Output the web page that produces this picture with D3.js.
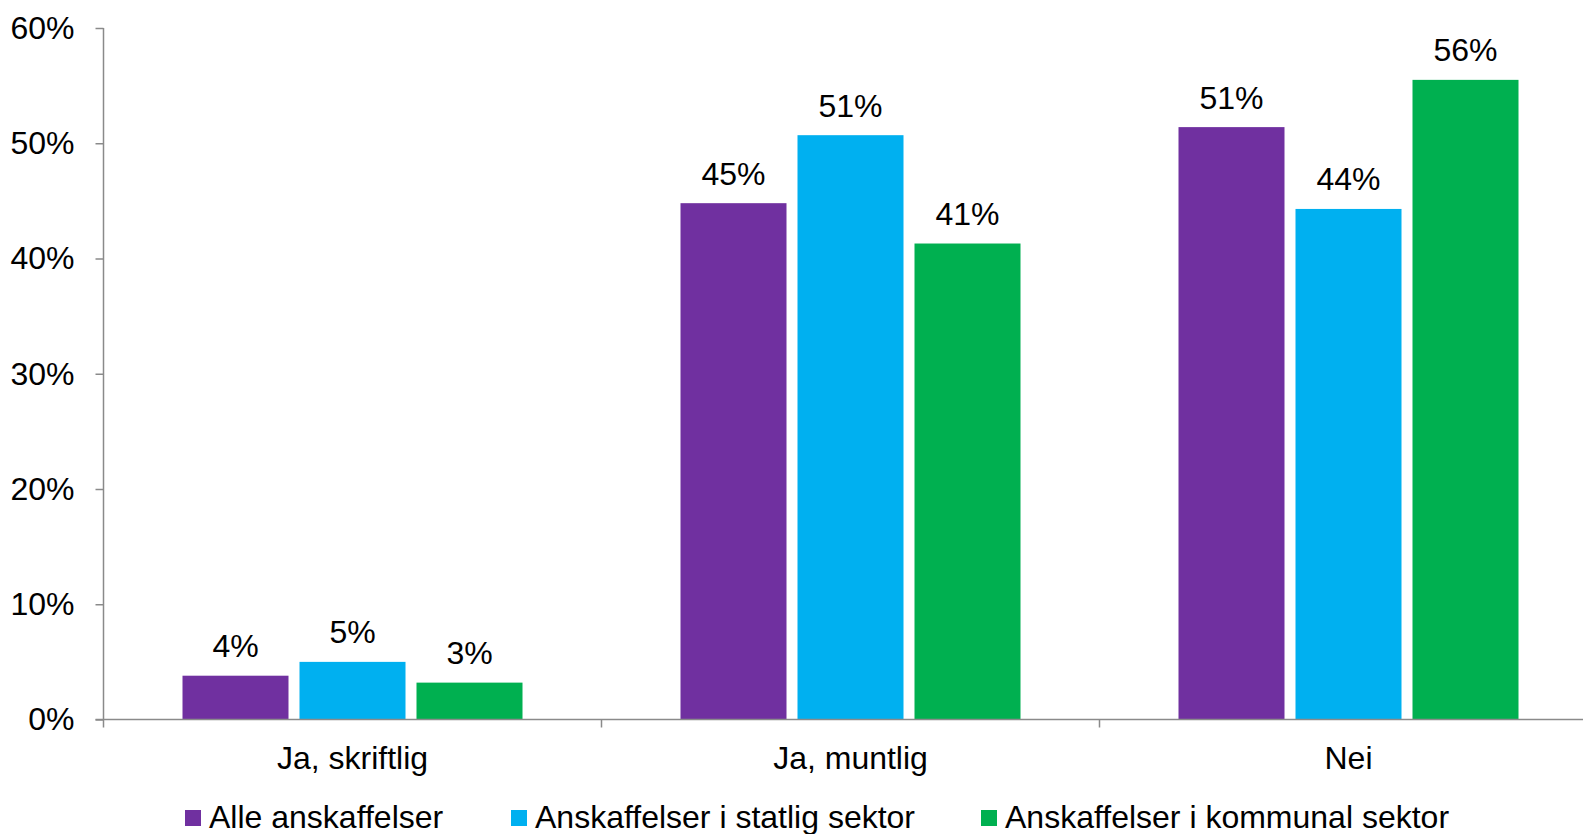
<!DOCTYPE html>
<html>
<head>
<meta charset="utf-8">
<script src="https://cdn.jsdelivr.net/npm/d3@7"></script>
<style>
  html, body { margin: 0; padding: 0; background: #fff; overflow: hidden; }
  svg { display: block; font-family: "Liberation Sans", Arial, sans-serif; }
</style>
</head>
<body>
<svg id="chart" width="1583" height="834"></svg>
<script>
const categories = ["Ja, skriftlig", "Ja, muntlig", "Nei"];
const seriesNames = ["Alle anskaffelser", "Anskaffelser i statlig sektor", "Anskaffelser i kommunal sektor"];
const seriesColors = ["#7030A0", "#00B0F0", "#00B050"];
const alleValues = [3.8, 44.8, 51.4];
const statligValues = [5.0, 50.7, 44.3];
const kommunalValues = [3.2, 41.3, 55.5];
const yTicks = [0, 10, 20, 30, 40, 50, 60];

const seriesValues = [alleValues, statligValues, kommunalValues];

const svg = d3.select("#chart");
const plotLeft = 103.5, plotTop = 28, plotBottom = 719.5;
const bandW = 498;

const x = d3.scaleBand().domain(categories).range([plotLeft, plotLeft + bandW * categories.length]).padding(0);
const xs = d3.scaleBand().domain(seriesNames).range([79, 419]).paddingInner(11 / 117).paddingOuter(0);
const y = d3.scaleLinear().domain([0, 60]).range([plotBottom, plotTop]);

const axisColor = "#8a8a8a";

// bars
const groups = svg.append("g").selectAll("g")
  .data(categories)
  .join("g")
  .attr("transform", d => `translate(${x(d)},0)`);

groups.selectAll("rect")
  .data((c, i) => seriesNames.map((s, j) => ({ s, j, v: seriesValues[j][i] })))
  .join("rect")
  .attr("x", d => xs(d.s))
  .attr("width", xs.bandwidth())
  .attr("y", d => y(d.v))
  .attr("height", d => y(0) - y(d.v))
  .attr("fill", d => seriesColors[d.j]);

groups.selectAll("text.val")
  .data((c, i) => seriesNames.map((s, j) => ({ s, j, v: seriesValues[j][i] })))
  .join("text")
  .attr("class", "val")
  .attr("x", d => xs(d.s) + xs.bandwidth() / 2)
  .attr("y", d => y(d.v) - 18.5)
  .attr("text-anchor", "middle")
  .attr("font-size", 32)
  .attr("fill", "#000")
  .text(d => Math.round(d.v) + "%");

// y axis
const yAxis = svg.append("g")
  .attr("transform", `translate(${plotLeft},0)`)
  .call(d3.axisLeft(y).tickValues(yTicks).tickSize(8).tickPadding(21).tickFormat(d => d + "%"));
yAxis.select(".domain").remove();
yAxis.selectAll(".tick line").attr("stroke", axisColor).attr("stroke-width", 1.5);
yAxis.selectAll(".tick text").attr("font-size", 32).attr("fill", "#000")
  .attr("font-family", "'Liberation Sans', Arial, sans-serif");
yAxis.append("line")
  .attr("x1", 0).attr("x2", 0).attr("y1", plotTop).attr("y2", plotBottom + 8)
  .attr("stroke", axisColor).attr("stroke-width", 1.5);

// x axis
const xAxis = svg.append("g")
  .attr("transform", `translate(0,${plotBottom})`)
  .call(d3.axisBottom(x).tickSize(0).tickPadding(0));
xAxis.select(".domain").remove();
xAxis.selectAll(".tick text")
  .attr("y", 49).attr("dy", 0)
  .attr("font-size", 32).attr("fill", "#000")
  .attr("font-family", "'Liberation Sans', Arial, sans-serif");
xAxis.append("line")
  .attr("x1", plotLeft - 8).attr("x2", 1583).attr("y1", 0).attr("y2", 0)
  .attr("stroke", axisColor).attr("stroke-width", 1.5);
xAxis.selectAll("line.bound")
  .data(categories.slice(1))
  .join("line")
  .attr("class", "bound")
  .attr("x1", d => x(d)).attr("x2", d => x(d))
  .attr("y1", 0).attr("y2", 8)
  .attr("stroke", axisColor).attr("stroke-width", 1.5);

// legend
const legendX = [185, 511, 981];
const legend = svg.append("g").selectAll("g")
  .data(seriesNames)
  .join("g")
  .attr("transform", (d, i) => `translate(${legendX[i]},810)`);
legend.append("rect")
  .attr("width", 16).attr("height", 16)
  .attr("fill", (d, i) => seriesColors[i]);
legend.append("text")
  .attr("x", 24).attr("y", 18)
  .attr("font-size", 32).attr("fill", "#000")
  .text(d => d);
</script>
</body>
</html>
